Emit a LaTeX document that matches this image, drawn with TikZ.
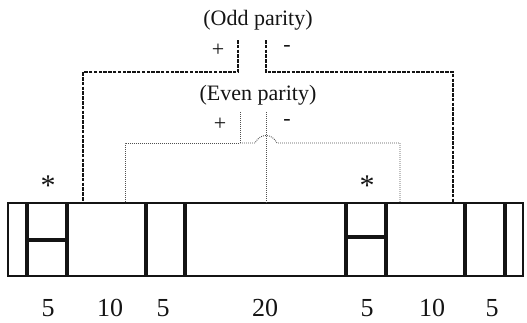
\documentclass[tikz,border=0pt]{standalone}
\usepackage{fontspec}
\setmainfont{Liberation Serif}
\usepackage{tikz}
\usetikzlibrary{calc}
\definecolor{inkblack}{RGB}{20,20,20}
\definecolor{dotgray}{RGB}{80,80,80}

\tikzset{
  divider/.style={line width=3.6pt, draw=inkblack},
  oddline/.style={line width=1.2pt, dash pattern=on 3.5pt off 1.3pt, draw=inkblack},
  evenline/.style={line width=0.9pt, dash pattern=on 0.9pt off 1.1pt, draw=dotgray},
  lbl/.style={font=\fontsize{22}{24}\selectfont, inner sep=0pt, text=inkblack},
  numlbl/.style={font=\fontsize{26}{28}\selectfont, inner sep=0pt, text=inkblack}
}

\begin{document}
\begin{tikzpicture}[x=1pt,y=-1pt]
\useasboundingbox (0,0) rectangle (527,322);

% the frame and its fields
\draw[line width=1.8pt, draw=inkblack] (8,203) rectangle (523,276);
\foreach \xpos in {27,67,146,185,346,386,465,505}
  \draw[divider] (\xpos,203) -- (\xpos,276);
\draw[divider] (27,240) -- (67,240);
\draw[divider] (346,237) -- (386,237);

\foreach \xpos/\len [count=\i] in {48/5,110/10,163/5,265/20,367/5,432/10,492/5}
  \node[numlbl] (len\i) at (\xpos,308) {\len};
\node[lbl, font=\fontsize{30}{32}\selectfont] (starL) at (48,186) {*};
\node[lbl, font=\fontsize{30}{32}\selectfont] (starR) at (367,186) {*};

% points where the parity lines meet the frame
\coordinate (fieldA) at (83,203);
\coordinate (fieldB) at (453,203);
\coordinate (fieldC) at (125,203);
\coordinate (fieldD) at (400,203);
\coordinate (fieldE) at (266,203);

% odd parity
\node[lbl] (odd) at (258,20) {(Odd parity)};
\node[lbl] (oddplus) at (218,50) {+};
\node[lbl] (oddminus) at (287,48) {-};
\coordinate (oddA) at (238,40);
\coordinate (oddB) at (266,40);
\draw[oddline] (oddA) -- ++(0,32) -| (fieldA);
\draw[oddline] (oddB) -- ++(0,32) -| (fieldB);

% even parity
\node[lbl] (even) at (258,95) {(Even parity)};
\node[lbl] (evenplus) at (220,124) {+};
\node[lbl] (evenminus) at (287,122) {-};
\coordinate (evenA) at (240,112);
\coordinate (evenB) at (266,112);
\draw[evenline] (evenA) -- ++(0,31) -| (fieldC);
\draw[evenline] ($(evenA)+(0,31)$) -- (255,143)
  .. controls (260,133) and (272,133) .. (277,143) -| (fieldD);
\draw[evenline] (evenB) -- (fieldE);
\end{tikzpicture}
\end{document}
